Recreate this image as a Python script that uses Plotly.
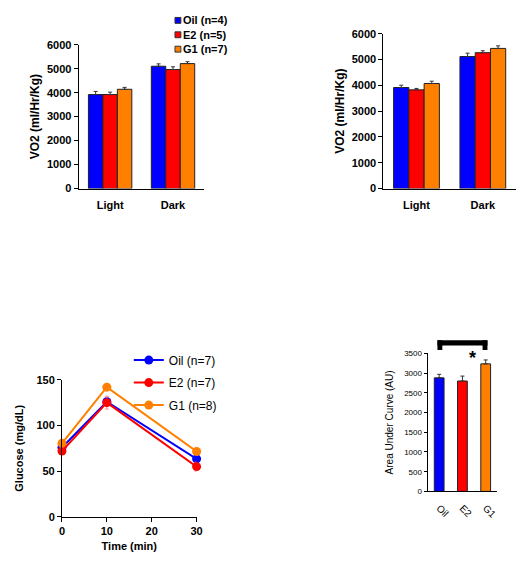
import plotly.graph_objects as go

FONT = "Liberation Sans, Arial, sans-serif"
BLUE, RED, ORANGE = "#0000FF", "#FF0000", "#FF8000"

# Panel A (top-left): VO2
phases = ["Light", "Dark"]
a_oil = [3920, 5100]
a_oil_err = [130, 100]
a_e2 = [3920, 4965]
a_e2_err = [100, 110]
a_g1 = [4140, 5210]
a_g1_err = [80, 80]
a_names = ["Oil (n=4)", "E2 (n=5)", "G1 (n=7)"]

# Panel B (top-right): VO2
b_oil = [3915, 5115]
b_oil_err = [90, 130]
b_e2 = [3825, 5265]
b_e2_err = [55, 75]
b_g1 = [4070, 5430]
b_g1_err = [90, 100]

# Panel C (bottom-left): glucose time course
times = [0, 10, 30]
c_oil = [76, 126, 63.5]
c_oil_err = [3, 4, 3]
c_e2 = [72, 125, 55]
c_e2_err = [3, 7, 5]
c_g1 = [80.5, 142, 71.5]
c_g1_err = [3, 3, 3]
c_names = ["Oil (n=7)", "E2 (n=7)", "G1 (n=8)"]

# Panel D (bottom-right): AUC
groups = ["Oil", "E2", "G1"]
auc = [2880, 2800, 3235]
auc_err = [90, 125, 100]

W, H = 522, 562
def px_x(a, b):
    return [a / W, b / W]
def px_y(top, bottom):
    return [1 - bottom / H, 1 - top / H]

fig = go.Figure()
colors = [BLUE, RED, ORANGE]

for vals, errs, name, c in zip([a_oil, a_e2, a_g1], [a_oil_err, a_e2_err, a_g1_err], a_names, colors):
    fig.add_trace(go.Bar(x=phases, y=vals, name=name, showlegend=False,
                         marker=dict(color=c, line=dict(color="#222", width=1)),
                         error_y=dict(type="data", array=errs, arrayminus=[0] * len(errs), symmetric=False,
                                      color="#333", thickness=1, width=2),
                         xaxis="x", yaxis="y"))

for vals, errs, name, c in zip([b_oil, b_e2, b_g1], [b_oil_err, b_e2_err, b_g1_err], a_names, colors):
    fig.add_trace(go.Bar(x=phases, y=vals, name=name, showlegend=False,
                         marker=dict(color=c, line=dict(color="#222", width=1)),
                         error_y=dict(type="data", array=errs, arrayminus=[0] * len(errs), symmetric=False,
                                      color="#333", thickness=1, width=2),
                         xaxis="x2", yaxis="y2"))

err_cols = ["rgba(120,120,255,0.7)", "rgba(255,120,120,0.8)", "rgba(255,170,100,0.7)"]
for i, (vals, errs, name, c, ec) in enumerate(zip([c_oil, c_e2, c_g1], [c_oil_err, c_e2_err, c_g1_err],
                                                  c_names, colors, err_cols)):
    fig.add_trace(go.Scatter(x=times, y=vals, name=name, mode="lines+markers", legendgroup=f"g{i}",
                             line=dict(color=c, width=2), marker=dict(color=c, size=9),
                             error_y=dict(type="data", array=errs, color=ec, thickness=1, width=2),
                             cliponaxis=False, xaxis="x3", yaxis="y3", legend="legend"))

fig.add_trace(go.Bar(x=groups, y=auc, width=0.42, showlegend=False,
                     marker=dict(color=colors, line=dict(color="#222", width=1)),
                     error_y=dict(type="data", array=auc_err, arrayminus=[0] * 3, symmetric=False,
                                  color="#333", thickness=1, width=2),
                     xaxis="x4", yaxis="y4"))

axis_common = dict(showline=True, linecolor="black", linewidth=1, showgrid=False, zeroline=False,
                   tickcolor="black", fixedrange=True)
bold11 = dict(family=FONT, size=11, color="black", weight="bold")

fig.update_layout(
    width=W, height=H, margin=dict(l=0, r=0, t=0, b=0),
    paper_bgcolor="white", plot_bgcolor="white",
    barmode="group", bargap=0.31, bargroupgap=0,
    font=dict(family=FONT, color="black"),
    showlegend=True,
    xaxis=dict(axis_common, domain=px_x(77, 205), anchor="y", ticks="", tickfont=bold11,
               ticklabelstandoff=6, range=[-0.5, 1.5]),
    yaxis=dict(axis_common, domain=px_y(39.5, 186.6), anchor="x", range=[0, 6000], dtick=1000,
               ticks="outside", ticklen=4, tickfont=bold11,
               title=dict(text="VO2 (ml/Hr/Kg)", font=dict(family=FONT, size=12, weight="bold"), standoff=4)),
    xaxis2=dict(axis_common, domain=px_x(387, 522), anchor="y2", ticks="", tickfont=bold11,
                ticklabelstandoff=6, range=[-0.5, 1.5]),
    yaxis2=dict(axis_common, domain=px_y(28.3, 186.6), anchor="x2", range=[0, 6000], dtick=1000,
                ticks="outside", ticklen=4, tickfont=bold11,
                title=dict(text="VO2 (ml/Hr/Kg)", font=dict(family=FONT, size=12, weight="bold"), standoff=4)),
    xaxis3=dict(axis_common, domain=px_x(60, 197), anchor="y3", range=[0, 30], dtick=10,
                ticks="outside", ticklen=4, tickfont=bold11,
                title=dict(text="Time (min)", font=dict(family=FONT, size=11, weight="bold"), standoff=6)),
    yaxis3=dict(axis_common, domain=px_y(382, 522), anchor="x3", range=[0, 150], dtick=50,
                ticks="outside", ticklen=4, tickfont=bold11,
                title=dict(text="Glucose (mg/dL)", font=dict(family=FONT, size=11, weight="bold"), standoff=10)),
    xaxis4=dict(axis_common, domain=px_x(432, 503), anchor="y4", range=[-0.5, 2.5], ticks="",
                tickangle=45, tickfont=dict(family=FONT, size=10), ticklabelstandoff=6),
    yaxis4=dict(axis_common, domain=px_y(355, 496), anchor="x4", range=[0, 3500], dtick=500,
                ticks="outside", ticklen=3, tickfont=dict(family=FONT, size=8),
                title=dict(text="Area Under Curve (AU)", font=dict(family=FONT, size=10), standoff=8)),
    legend=dict(x=(168 - 40) / W, y=1 - 347 / H, xanchor="left", yanchor="top", bgcolor="rgba(0,0,0,0)",
                font=dict(family=FONT, size=12, color="black"), tracegroupgap=3.5, itemclick=False),
)

# legend of the top-left panel: small outlined squares with bold labels
for i, (name, c) in enumerate(zip(a_names, colors)):
    yc = 14.7 + i * 14.7
    fig.add_shape(type="rect", xref="paper", yref="paper",
                  x0=175 / W, x1=181 / W, y0=1 - (yc + 3) / H, y1=1 - (yc - 3) / H,
                  fillcolor=c, line=dict(color="#333", width=1))
    fig.add_annotation(xref="paper", yref="paper", x=181.5 / W, y=1 - yc / H, text=name, showarrow=False,
                       xanchor="left", yanchor="middle", font=bold11)

# significance bracket between Oil and G1 on panel D
n = len(groups)
left = (groups.index("Oil") + 0.5) / n - 0.025
right = (groups.index("G1") + 0.5) / n + 0.025
sh = dict(type="rect", xref="x4 domain", yref="y4 domain", fillcolor="black", line=dict(width=0))
fig.add_shape(sh, x0=left, x1=right, y0=1.057, y1=1.095)
fig.add_shape(sh, x0=left, x1=left + 0.07, y0=1.025, y1=1.095)
fig.add_shape(sh, x0=right - 0.07, x1=right, y0=1.025, y1=1.095)
fig.add_annotation(x=0.72, y=0.965, xref="x4 domain", yref="y4 domain", text="*", showarrow=False,
                   font=dict(family=FONT, size=18, weight="bold", color="black"), yanchor="middle")

fig.write_html("out.html")
